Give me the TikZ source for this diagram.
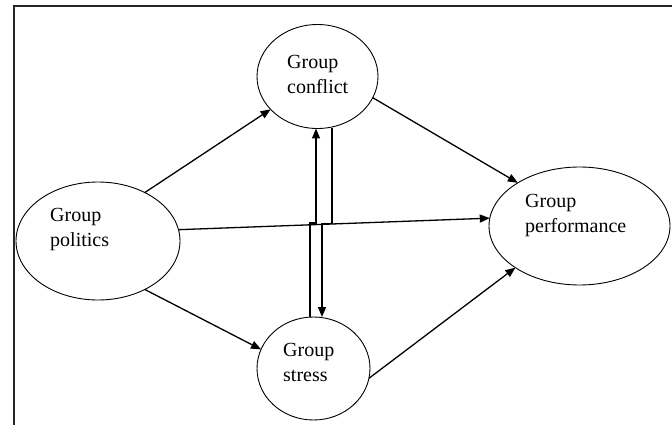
\documentclass[tikz,border=0pt]{standalone}
\usepackage{fontspec}
\setmainfont{Liberation Serif}
\usetikzlibrary{shapes.geometric,arrows.meta}
\begin{document}
\begin{tikzpicture}[x=1pt,y=-1pt,
  ell/.style={draw,ellipse,line width=0.9pt,inner sep=0pt,outer sep=0pt},
  txt/.style={anchor=north west,align=left,inner sep=0pt,font=\fontsize{20}{25}\selectfont},
  arr/.style={line width=1.3pt,-{Triangle[length=10pt,width=8pt]}}]
\useasboundingbox (0,0) rectangle (672,425);
\draw[line width=2pt,black!85] (13.5,425) -- (13.5,6) -- (672,6);
\node[ell,minimum width=164,minimum height=118] (pol) at (98,241) {};
\node[ell,minimum width=121,minimum height=104] (conf) at (317.5,76.5) {};
\node[ell,minimum width=113,minimum height=103] (stres) at (313.5,368.5) {};
\node[ell,minimum width=181,minimum height=118] (perf) at (579.5,226) {};
\node[txt] (polT) at (50,208.5) {Group\\politics};
\node[txt] (confT) at (287,55) {Group\\conflict};
\node[txt] (stresT) at (283,343.5) {Group\\stress};
\node[txt] (perfT) at (525,194.5) {Group\\performance};
\draw[arr] (pol.46) -- (conf.215);
\draw[arr] (pol.8) -- (perf.175);
\draw[arr] (pol.314) -- (stres.160);
\draw[arr] (conf.339) -- (perf.145);
\draw[arr] (stres.350) -- (perf.213);
\draw[arr] ([xshift=-3.5]stres.north) -- ++(0,-94) -| ([xshift=-1.5]conf.south);
\draw[arr] ([xshift=14.5]conf.south) -- ++(0,95) -| ([xshift=8.5]stres.north);
\end{tikzpicture}
\end{document}
